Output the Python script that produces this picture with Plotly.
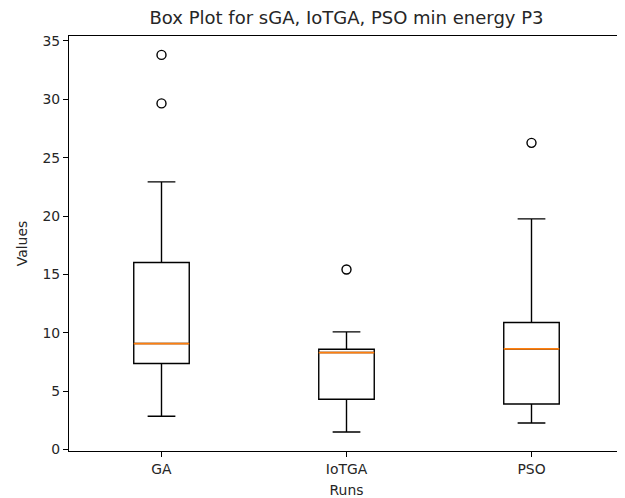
import plotly.graph_objects as go

categories = ["GA", "IoTGA", "PSO"]
positions = [1, 2, 3]
q1 = [7.37, 4.31, 3.91]
median = [9.08, 8.31, 8.62]
q3 = [16.02, 8.60, 10.88]
lower_whisker = [2.85, 1.51, 2.28]
upper_whisker = [22.93, 10.08, 19.76]
outlier_x = ["GA", "GA", "IoTGA", "PSO"]
outlier_y = [33.80, 29.65, 15.42, 26.27]

BOX_W = 0.3
FONT = "DejaVu Sans"
# the page body adds an 8px margin, so the figure is 8px smaller each way
W, H = 617, 490

fig = go.Figure()
fig.add_trace(go.Box(
    x=positions, q1=q1, median=median, q3=q3,
    lowerfence=lower_whisker, upperfence=upper_whisker,
    width=BOX_W, whiskerwidth=0.5,
    line=dict(color="black", width=1.4),
    fillcolor="rgba(0,0,0,0)",
    boxpoints=False, showlegend=False, hoverinfo="skip",
))

# orange median lines
mx, my = [], []
for p, m in zip(positions, median):
    mx += [p - BOX_W / 2, p + BOX_W / 2, None]
    my += [m, m, None]
fig.add_trace(go.Scatter(x=mx, y=my, mode="lines",
                         line=dict(color="#ff7f0e", width=1.8),
                         showlegend=False, hoverinfo="skip"))

# outliers
ox = [positions[categories.index(c)] for c in outlier_x]
fig.add_trace(go.Scatter(x=ox, y=outlier_y, mode="markers",
                         marker=dict(symbol="circle-open", size=9,
                                     color="black", line=dict(width=1.4)),
                         showlegend=False, hoverinfo="skip"))

axis_common = dict(showline=True, linecolor="black", linewidth=1.1, mirror=True,
                   ticks="outside", ticklen=5, tickwidth=1.1, tickcolor="black",
                   showgrid=False, zeroline=False, automargin=False,
                   tickfont=dict(family=FONT, size=13.9, color="#262626"))

fig.update_layout(
    width=W, height=H,
    margin=dict(l=61, r=1, t=28, b=47),
    plot_bgcolor="white", paper_bgcolor="white",
    title=dict(text="Box Plot for sGA, IoTGA, PSO min energy P3",
               font=dict(family=FONT, size=18, color="#262626"),
               x=338.5 / W, xanchor="center",
               y=1 - 10 / H, yanchor="middle"),
    xaxis=dict(range=[0.5, 3.5], tickvals=positions, ticktext=categories,
               title=dict(text="Runs", font=dict(family=FONT, size=13.9, color="#262626"),
                          standoff=16),
               **axis_common),
    yaxis=dict(range=[-0.12, 35.42], tickvals=[0, 5, 10, 15, 20, 25, 30, 35],
               title=dict(text="Values", font=dict(family=FONT, size=13.9, color="#262626"),
                          standoff=11),
               **axis_common),
)

fig.write_html("out.html")
